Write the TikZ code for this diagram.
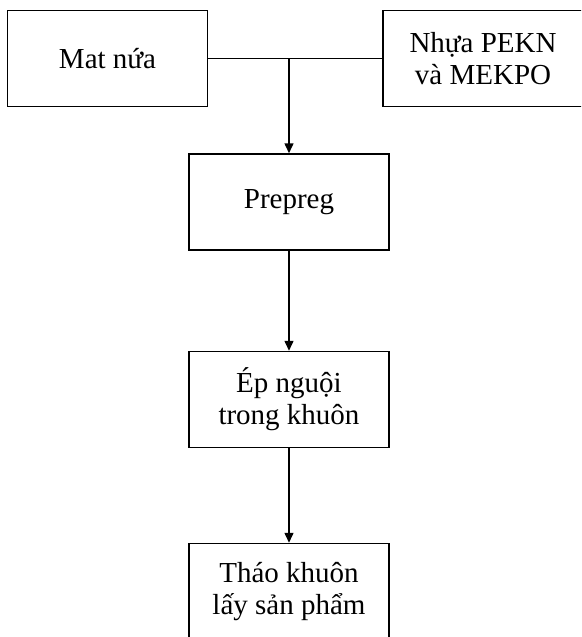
\documentclass[tikz,border=0pt]{standalone}
\usepackage{fontspec}
\setmainfont{Liberation Serif}
\usetikzlibrary{arrows.meta}

\begin{document}
\begin{tikzpicture}[x=1pt,y=-1pt]
    \tikzstyle{box}=[rectangle,draw=black,line width=1.5pt,minimum width=200pt,minimum height=96pt,inner sep=0pt,align=center,font=\fontsize{29}{32}\selectfont]
    \tikzstyle{link}=[line width=1.5pt,-{Triangle[length=10pt,width=9pt]}]
    \clip (0,0) rectangle (581,637);

    \node (mat)[box] at (107.5,58.5) {Mat nứa};
    \node (nhua)[box] at (483,58.5) {Nhựa PEKN\\và MEKPO};
    \node (prepreg)[box] at (289,202) {Prepreg};
    \node (ep)[box] at (289,399.5) {Ép nguội\\trong khuôn};
    \node (thao)[box] at (289,591.5) {Tháo khuôn\\lấy sản phẩm};

    \coordinate (j) at (prepreg.north |- mat.east);

    \draw[line width=1.5pt] (mat.east) -- (nhua.west);
    \draw[link] (j) -- (prepreg.north);
    \draw[link] (prepreg) -- (ep);
    \draw[link] (ep) -- (thao);
\end{tikzpicture}
\end{document}
